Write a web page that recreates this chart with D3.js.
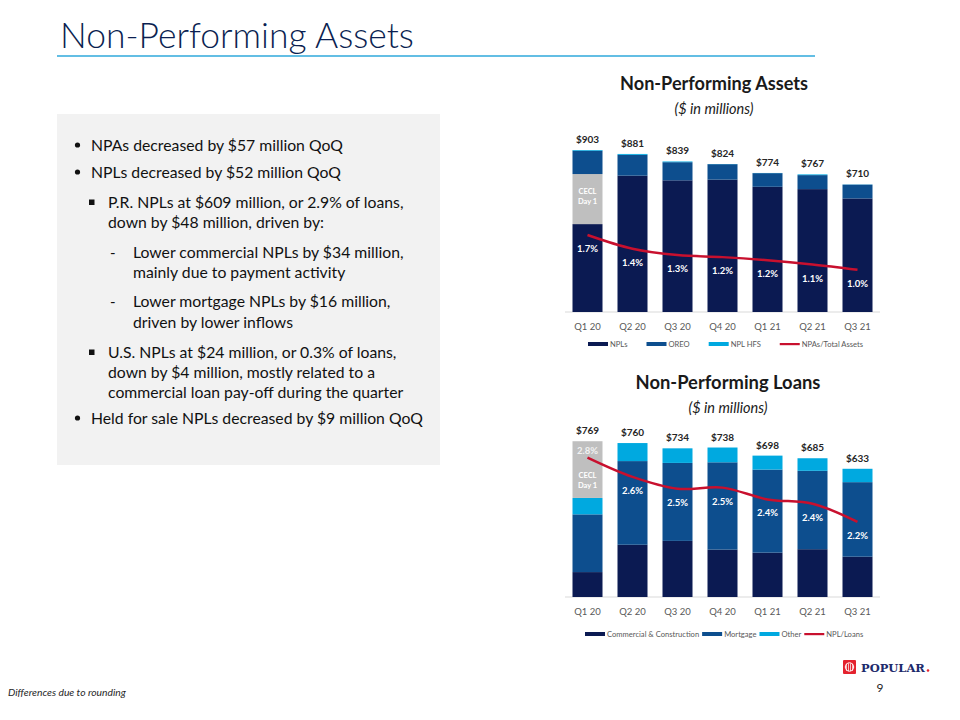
<!DOCTYPE html>
<html><head><meta charset="utf-8">
<script src="https://cdn.jsdelivr.net/npm/d3@7"></script>
<style>body{margin:0;background:#fff}svg{display:block}</style>
</head><body><svg id="c" width="960" height="720"></svg>
<script>
// ---------- DATA ----------
const categories = ["Q1 20","Q2 20","Q3 20","Q4 20","Q1 21","Q2 21","Q3 21"];
// Non-Performing Assets ($ in millions)
const npaNPLs   = [490,760,734,738,698,685,633];
const npaCECL   = [279,0,0,0,0,0,0];
const npaOREO   = [130,116,101,86,76,78,77];
const npaHFS    = [4,5,4,1,1,4,1];
const npaTotals = [903,881,839,824,774,767,710];
const npaRatio  = [1.66,1.40,1.28,1.24,1.18,1.10,1.00];
// Non-Performing Loans ($ in millions)
const nplCommercial = [123,258,277,234,219,236,199];
const nplMortgage   = [285,413,385,431,410,387,368];
const nplOther      = [81,89,72,73,69,62,66];
const nplCECL       = [280,0,0,0,0,0,0];
const nplTotals     = [769,760,734,738,698,685,633];
const nplRatio      = [2.80,2.62,2.51,2.52,2.41,2.37,2.20];

const bulletLines = [
  "NPAs decreased by $57 million QoQ",
  "NPLs decreased by $52 million QoQ",
  "P.R. NPLs at $609 million, or 2.9% of loans,",
  "down by $48 million, driven by:",
  "Lower commercial NPLs by $34 million,",
  "mainly due to payment activity",
  "Lower mortgage NPLs by $16 million,",
  "driven by lower inflows",
  "U.S. NPLs at $24 million, or 0.3% of loans,",
  "down by $4 million, mostly related to a",
  "commercial loan pay-off during the quarter",
  "Held for sale NPLs decreased by $9 million QoQ"
];

// ---------- STYLE ----------
const NAVY="#0b1a52", MID="#0d4e8e", LIGHT="#00a9e0", GRAY="#bfbfbf", RED="#c8102e";
const FONT="Lato, 'Open Sans', sans-serif";
const svg=d3.select("#c");

// ---------- HEADER ----------
const title=svg.append("text").attr("x",60).attr("y",48).attr("fill","#0b1f51")
  .style("font-family",FONT).style("font-weight",300).style("font-size","36px")
  .text("Non-Performing Assets");
(function fit(){const w=title.node().getComputedTextLength();title.style("font-size",(36*354/w)+"px");})();
svg.append("line").attr("x1",57).attr("x2",815).attr("y1",56).attr("y2",56)
  .attr("stroke","#2fa9db").attr("stroke-width",1.5);

// ---------- LEFT TEXT BOX ----------
svg.append("rect").attr("x",57).attr("y",114).attr("width",383).attr("height",351).attr("fill","#f2f2f2");
const lineY=[146,173,203,223,253,273,302,323,353,373,393,419];
const lineX=[91,91,108,108,133,133,133,133,108,108,108,91];
const markers={0:"•",1:"•",2:"▪",4:"-",6:"-",8:"▪",11:"•"};
const tg=svg.append("g").style("font-family",FONT).attr("fill","#111");
const tl=tg.selectAll("text.bl").data(bulletLines).join("text").attr("class","bl")
  .attr("x",(d,i)=>lineX[i]).attr("y",(d,i)=>lineY[i]+5).style("font-size","16px").text(d=>d);
(function(){const w=tl.nodes()[0].getComputedTextLength();const fs=16*252/w;tl.style("font-size",fs+"px");})();
Object.entries(markers).forEach(([i,m])=>{
  i=+i;
  if(m==="•") tg.append("circle").attr("cx",77.5).attr("cy",lineY[i]-1).attr("r",2.6);
  else if(m==="▪") tg.append("rect").attr("x",89).attr("y",lineY[i]-3.5).attr("width",5.5).attr("height",5.5);
  else tg.append("text").attr("x",110).attr("y",lineY[i]+5).style("font-size","15px").text(m);
});

// ---------- CHART FUNCTION ----------
function drawChart(cfg){
  const g=svg.append("g");
  const x=d3.scaleBand().domain(categories).range([565,880]).paddingInner(1/3).paddingOuter(1/6);
  const y=d3.scaleLinear().domain(cfg.yDomain).range(cfg.yRange);
  const y2=d3.scaleLinear().domain(cfg.y2Domain).range(cfg.yRange);
  // titles
  const tt=g.append("text").attr("x",cfg.titleX).attr("y",cfg.titleY).attr("text-anchor","middle")
    .style("font-family",FONT).style("font-weight",700).style("font-size","17px").attr("fill","#1a1a1a").text(cfg.title);
  const w0=tt.node().getComputedTextLength(); tt.style("font-size",(17*cfg.titleW/w0)+"px");
  g.append("text").attr("x",cfg.titleX).attr("y",cfg.titleY+24).attr("text-anchor","middle")
    .style("font-family",FONT).style("font-style","italic").style("font-size","14.5px").attr("fill","#1a1a1a").text("($ in millions)");
  // axis line
  g.append("line").attr("x1",565).attr("x2",880).attr("y1",y(0)).attr("y2",y(0)).attr("stroke","#d9d9d9");
  // stacks
  const keys=cfg.series.map(s=>s.key);
  const rows=categories.map((c,i)=>{const r={cat:c};cfg.series.forEach(s=>r[s.key]=s.values[i]);return r;});
  const stacked=d3.stack().keys(keys)(rows);
  stacked.forEach((layer,li)=>{
    g.append("g").attr("fill",cfg.series[li].color).selectAll("rect").data(layer).join("rect")
      .attr("x",d=>x(d.data.cat)).attr("width",x.bandwidth())
      .attr("y",d=>y(d[1])).attr("height",d=>Math.max(0,y(d[0])-y(d[1])));
  });
  // CECL label
  const ci=keys.indexOf("cecl");
  const cl=stacked[ci][0];
  const cy=(y(cl[0])+y(cl[1]))/2+cfg.ceclOffset;
  ["CECL","Day 1"].forEach((t,k)=>g.append("text").attr("x",x(categories[0])+x.bandwidth()/2).attr("y",cy+k*10)
    .attr("text-anchor","middle").style("font-family",FONT).style("font-weight",700).style("font-size","7.5px").attr("fill","#fff").text(t));
  // totals
  g.selectAll("text.tot").data(cfg.totals).join("text").attr("class","tot")
    .attr("x",(d,i)=>x(categories[i])+x.bandwidth()/2).attr("y",(d,i)=>y(d3.sum(keys,k=>rows[i][k]))-7)
    .attr("text-anchor","middle").style("font-family",FONT).style("font-weight",700).style("font-size","10px")
    .attr("fill","#262626").text(d=>"$"+d);
  // ratio line
  const line=d3.line().x((d,i)=>x(categories[i])+x.bandwidth()/2).y(d=>y2(d)).curve(d3.curveCatmullRom.alpha(0.5));
  g.append("path").datum(cfg.ratio).attr("d",line).attr("fill","none").attr("stroke",RED).attr("stroke-width",2.5);
  g.selectAll("text.pct").data(cfg.ratio).join("text").attr("class","pct")
    .attr("x",(d,i)=>x(categories[i])+x.bandwidth()/2)
    .attr("y",(d,i)=>y2(d)+((i===0&&cfg.firstAbove)?-4:17))
    .attr("text-anchor","middle").style("font-family",FONT).style("font-weight",700).style("font-size","9.5px")
    .attr("fill",(d,i)=>(i===0&&cfg.firstAbove)?"#f2f2f2":"#fff").text(d=>d.toFixed(1)+"%");
  // x axis labels
  const ax=g.append("g").attr("transform",`translate(0,${y(0)})`).call(d3.axisBottom(x).tickSize(0).tickPadding(11));
  ax.select(".domain").remove();
  ax.selectAll("text").style("font-family",FONT).style("font-size","9.5px").attr("fill","#595959");
  // legend
  const lg=g.append("g").attr("transform",`translate(0,${cfg.legendY})`);
  let lx=cfg.legendX;
  cfg.legend.forEach(it=>{
    if(it.line) lg.append("rect").attr("x",lx).attr("y",-1).attr("width",20).attr("height",2.2).attr("fill",it.color);
    else lg.append("rect").attr("x",lx).attr("y",-2).attr("width",20).attr("height",4).attr("fill",it.color);
    const t=lg.append("text").attr("x",lx+22).attr("y",3).style("font-family",FONT).style("font-size","7.6px").attr("fill","#595959").text(it.name);
    lx+=22+t.node().getComputedTextLength()+cfg.legendGap;
  });
}

drawChart({
  title:"Non-Performing Assets", titleX:714, titleY:90, titleW:188,
  yDomain:[0,1000], yRange:[312,132.6], y2Domain:[0.2,3.6],
  series:[{key:"npl",values:npaNPLs,color:NAVY},{key:"cecl",values:npaCECL,color:GRAY},
          {key:"oreo",values:npaOREO,color:MID},{key:"hfs",values:npaHFS,color:LIGHT}],
  totals:npaTotals, ratio:npaRatio, ceclOffset:-5, firstAbove:false,
  legendY:344, legendX:588, legendGap:19,
  legend:[{name:"NPLs",color:NAVY},{name:"OREO",color:MID},{name:"NPL HFS",color:LIGHT},{name:"NPAs/Total Assets",color:RED,line:true}]
});
drawChart({
  title:"Non-Performing Loans", titleX:728, titleY:389, titleW:185,
  yDomain:[0,900], yRange:[597,414.7], y2Domain:[1.5,3.2],
  series:[{key:"com",values:nplCommercial,color:NAVY},{key:"mort",values:nplMortgage,color:MID},
          {key:"oth",values:nplOther,color:LIGHT},{key:"cecl",values:nplCECL,color:GRAY}],
  totals:nplTotals, ratio:nplRatio, ceclOffset:8, firstAbove:true,
  legendY:634, legendX:585, legendGap:3,
  legend:[{name:"Commercial & Construction",color:NAVY},{name:"Mortgage",color:MID},{name:"Other",color:LIGHT},{name:"NPL/Loans",color:RED,line:true}]
});

// ---------- FOOTER ----------
svg.append("text").attr("x",8).attr("y",696).style("font-family",FONT).style("font-style","italic")
  .style("font-size","10.3px").attr("fill","#262626").text("Differences due to rounding");
svg.append("text").attr("x",880).attr("y",692).attr("text-anchor","middle").style("font-family",FONT)
  .style("font-size","12px").attr("fill","#262626").text("9");
// logo
const logo=svg.append("g");
logo.append("rect").attr("x",843).attr("y",660).attr("width",13).attr("height",14).attr("rx",1).attr("fill","#e4222e");
logo.append("circle").attr("cx",849.5).attr("cy",667).attr("r",4.2).attr("fill","none").attr("stroke","#fff").attr("stroke-width",1);
[846.5,848.5,850.5,852.5].forEach(v=>logo.append("line").attr("x1",v).attr("x2",v).attr("y1",663.5).attr("y2",671).attr("stroke","#fff").attr("stroke-width",0.7));
const pt=logo.append("text").attr("x",861).attr("y",672).style("font-family","'DejaVu Serif', serif").style("font-weight",700)
  .style("font-size","13px").attr("fill","#1c2a6b").text("POPULAR");
(function(){const w=pt.node().getComputedTextLength();pt.style("font-size",(13*64/w)+"px");})();
logo.append("circle").attr("cx",928).attr("cy",670.5).attr("r",1.3).attr("fill","#e4222e");
</script></body></html>
